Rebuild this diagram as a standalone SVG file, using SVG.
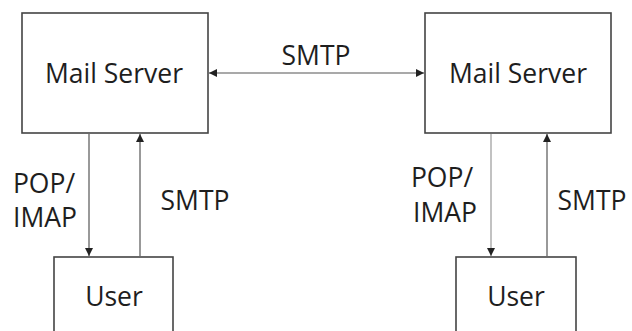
<svg xmlns="http://www.w3.org/2000/svg" width="632" height="331" viewBox="0 0 632 331">
<defs>
<marker id="ah" viewBox="0 0 10 10" refX="10" refY="5" markerWidth="8" markerHeight="8" markerUnits="userSpaceOnUse" orient="auto-start-reverse">
<path d="M0,0 L10,5 L0,10 z" fill="#222"/>
</marker>
<style>
.box{fill:#fff;stroke:#444;stroke-width:1.6}
.t{font-family:"Open Sans","Liberation Sans",sans-serif;font-size:26.5px;fill:#1e1e1e}
.c{fill:none;stroke:#555;stroke-width:1.2}
.cl{fill:none;stroke:#999;stroke-width:1.2}
</style>
</defs>
<rect width="632" height="331" fill="#fff"/>
<g id="mail-server-left">
<rect class="box" x="22" y="13" width="186" height="120"/>
<text class="t" x="114" y="83" text-anchor="middle">Mail Server</text>
</g>
<g id="mail-server-right">
<rect class="box" x="425" y="13" width="186" height="120"/>
<text class="t" x="518" y="83" text-anchor="middle">Mail Server</text>
</g>
<g id="user-left">
<rect class="box" x="54" y="257" width="119" height="90"/>
<text class="t" x="114" y="306" text-anchor="middle">User</text>
</g>
<g id="user-right">
<rect class="box" x="456" y="257" width="120" height="90"/>
<text class="t" x="516" y="306" text-anchor="middle">User</text>
</g>
<g id="connectors">
<line class="c" x1="209" y1="73" x2="424" y2="73" marker-start="url(#ah)" marker-end="url(#ah)"/>
<line class="c" x1="89" y1="134" x2="89" y2="256" marker-end="url(#ah)"/>
<line class="c" x1="140" y1="256" x2="140" y2="134" marker-end="url(#ah)"/>
<line class="cl" x1="491" y1="134" x2="491" y2="256" marker-end="url(#ah)"/>
<line class="c" x1="547" y1="256" x2="547" y2="134" marker-end="url(#ah)"/>
<text class="t" x="316" y="65" text-anchor="middle">SMTP</text>
<text class="t" x="44" y="193" text-anchor="middle">POP/</text>
<text class="t" x="45" y="227" text-anchor="middle">IMAP</text>
<text class="t" x="195" y="210" text-anchor="middle">SMTP</text>
<text class="t" x="442" y="187" text-anchor="middle">POP/</text>
<text class="t" x="445" y="222" text-anchor="middle">IMAP</text>
<text class="t" x="592" y="210" text-anchor="middle">SMTP</text>
</g>
</svg>
